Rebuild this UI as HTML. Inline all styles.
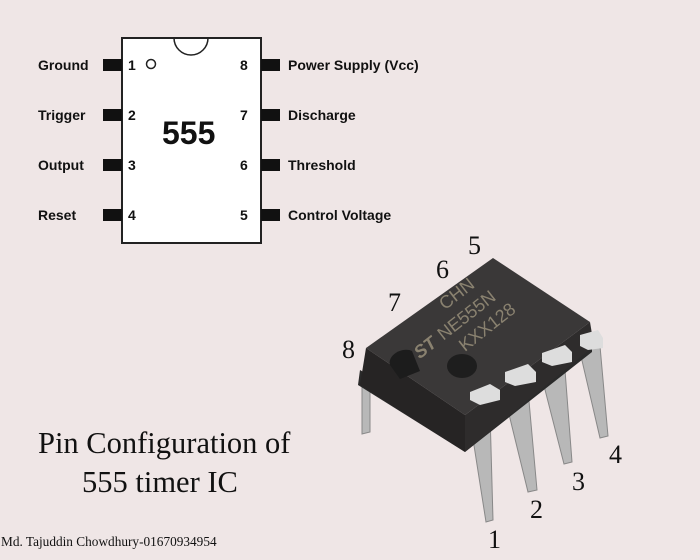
<!DOCTYPE html>
<html><head><meta charset="utf-8"><style>
body{margin:0;background:#efe6e6;}
svg{display:block}
.s{font-family:"Liberation Sans",sans-serif;font-weight:bold;font-size:14px;fill:#111}
.r{font-family:"Liberation Serif",serif;fill:#111}
</style></head><body>
<svg width="700" height="560" viewBox="0 0 700 560">
<rect width="700" height="560" fill="#efe6e6"/>
<rect x="122" y="38" width="139" height="205" fill="#fff" stroke="#222" stroke-width="2"/>
<path d="M174 38 A17 17 0 0 0 208 38" fill="none" stroke="#222" stroke-width="1.5"/>
<circle cx="151" cy="64" r="4.5" fill="none" stroke="#222" stroke-width="1.5"/>
<g fill="#111">
<rect x="103" y="59" width="19" height="12"/><rect x="103" y="109" width="19" height="12"/>
<rect x="103" y="159" width="19" height="12"/><rect x="103" y="209" width="19" height="12"/>
<rect x="261" y="59" width="19" height="12"/><rect x="261" y="109" width="19" height="12"/>
<rect x="261" y="159" width="19" height="12"/><rect x="261" y="209" width="19" height="12"/>
</g>
<g class="s">
<text x="38" y="70">Ground</text><text x="38" y="120">Trigger</text>
<text x="38" y="170">Output</text><text x="38" y="220">Reset</text>
<text x="128" y="70">1</text><text x="128" y="120">2</text><text x="128" y="170">3</text><text x="128" y="220">4</text>
<text x="240" y="70">8</text><text x="240" y="120">7</text><text x="240" y="170">6</text><text x="240" y="220">5</text>
<text x="288" y="70">Power Supply (Vcc)</text><text x="288" y="120">Discharge</text>
<text x="288" y="170">Threshold</text><text x="288" y="220">Control Voltage</text>
</g>
<text x="162" y="144" font-family="Liberation Sans,sans-serif" font-weight="bold" font-size="32" fill="#111">555</text>
<g fill="#b8b8b8" stroke="#888" stroke-width="1">
<polygon points="362,372 370,372 370,432 362,434"/>
<polygon points="470,420 490,412 493,520 486,522"/>
<polygon points="505,398 528,390 537,490 528,492"/>
<polygon points="542,378 565,370 572,462 564,464"/>
<polygon points="580,352 600,346 608,436 600,438"/>
</g>
<polygon points="360,370 465,432 592,340 592,352 465,452 358,385" fill="#2a2a2a"/>
<polygon points="366,348 493,258 590,322 465,415" fill="#3a3838"/>
<polygon points="366,348 465,415 465,452 360,385" fill="#262424"/>
<polygon points="465,415 590,322 594,346 465,452" fill="#2e2c2c"/>
<path d="M390 365 a14 10 -20 0 1 22 -14 l8 20 l-20 8z" fill="#1c1c1c"/>
<ellipse cx="462" cy="366" rx="15" ry="12" fill="#1e1e1e"/>
<g fill="#ddd">
<polygon points="470,392 490,384 500,390 500,400 480,405 470,400"/>
<polygon points="505,372 528,364 536,372 536,382 515,386 505,382"/>
<polygon points="542,353 565,345 572,352 572,362 552,366 542,362"/>
<polygon points="580,335 598,330 603,338 603,348 588,350 580,346"/>
</g>
<g fill="#8a8270" font-family="Liberation Sans,sans-serif" font-size="18" transform="rotate(-38 470 310)">
<text x="450" y="295">CHN</text><text x="430" y="318">NE555N</text><text x="440" y="340">KXX128</text>
<text x="400" y="318" font-weight="bold" font-style="italic">ST</text>
</g>
<g class="r" font-size="26">
<text x="468" y="254">5</text><text x="436" y="278">6</text><text x="388" y="311">7</text>
<text x="342" y="358">8</text><text x="488" y="548">1</text><text x="530" y="518">2</text>
<text x="572" y="490">3</text><text x="609" y="463">4</text>
</g>
<text x="38" y="453" class="r" font-size="30.5">Pin Configuration of</text>
<text x="82" y="492" class="r" font-size="30.5">555 timer IC</text>
<text x="1" y="546" class="r" font-size="13.3">Md. Tajuddin Chowdhury-01670934954</text>
</svg>
</body></html>
